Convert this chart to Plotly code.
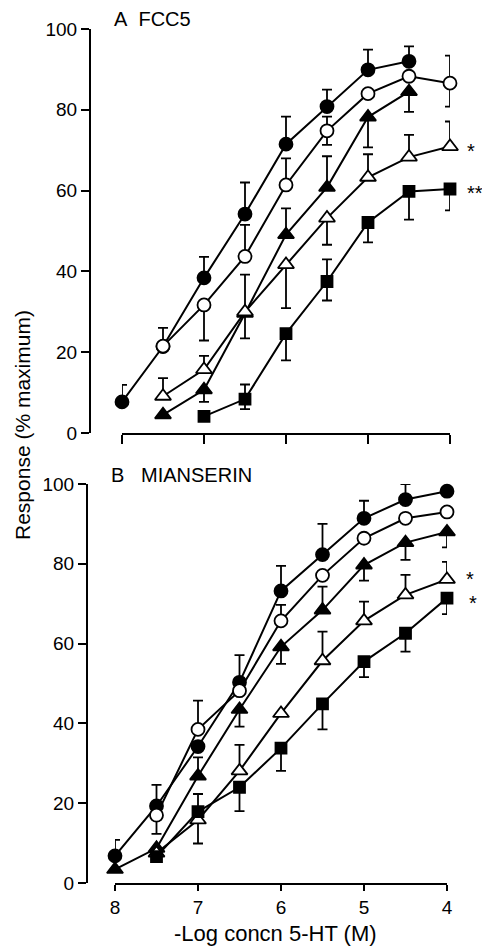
import plotly.graph_objects as go

# ---------------- data ----------------
# x: -log concentration of 5-HT (M)
# Panel A: FCC5
a_fc_x = [8, 7.5, 7, 6.5, 6, 5.5, 5, 4.5]
a_fc_y = [7.7, 21.4, 38.4, 54.2, 71.5, 80.8, 89.9, 92.0]
a_fc_up = [4.2, 4.6, 5.2, 7.8, 6.8, 4.2, 5.0, 3.7]
a_fc_dn = [0, 0, 0, 0, 0, 0, 0, 0]

a_oc_x = [7.5, 7, 6.5, 6, 5.5, 5, 4.5, 4]
a_oc_y = [21.5, 31.7, 43.7, 61.4, 74.8, 84.0, 88.3, 86.6]
a_oc_up = [0, 0, 7.8, 6.6, 3.5, 0, 0, 6.8]
a_oc_dn = [0, 8.8, 0, 0, 3.5, 0, 0, 5.8]

a_ft_x = [7.5, 7, 6.5, 6, 5.5, 5, 4.5]
a_ft_y = [4.5, 10.7, 29.6, 49.1, 60.8, 78.2, 84.5]
a_ft_up = [0, 0, 0, 6.5, 7.7, 0, 0]
a_ft_dn = [0, 3.0, 0, 0, 0, 7.5, 5.0]

a_ot_x = [7.5, 7, 6.5, 6, 5.5, 5, 4.5, 4]
a_ot_y = [9.1, 15.7, 30.0, 41.7, 53.2, 63.3, 68.3, 70.9]
a_ot_up = [4.5, 3.4, 9.2, 0, 0, 5.7, 5.5, 6.2]
a_ot_dn = [0, 0, 6.6, 10.8, 6.6, 0, 0, 0]

a_fs_x = [7, 6.5, 6, 5.5, 5, 4.5, 4]
a_fs_y = [4.1, 8.4, 24.6, 37.5, 52.1, 59.8, 60.4]
a_fs_up = [0, 3.6, 0, 5.5, 0, 0, 0]
a_fs_dn = [0, 2.5, 6.6, 4.7, 4.9, 7.0, 5.3]

# Panel B: MIANSERIN
b_fc_x = [8, 7.5, 7, 6.5, 6, 5.5, 5, 4.5, 4]
b_fc_y = [6.8, 19.3, 34.2, 50.3, 73.2, 82.3, 91.4, 96.1, 98.2]
b_fc_up = [4.0, 5.3, 0, 6.8, 6.3, 7.7, 4.4, 3.9, 3.8]
b_fc_dn = [0, 0, 0, 0, 0, 0, 0, 0, 0]

b_oc_x = [7.5, 7, 6.5, 6, 5.5, 5, 4.5, 4]
b_oc_y = [17.0, 38.5, 48.2, 65.7, 77.1, 86.4, 91.4, 93.0]
b_oc_up = [0, 7.2, 0, 4.0, 0, 0, 0, 0]
b_oc_dn = [4.7, 0, 0, 0, 0, 0, 0, 0]

b_ft_x = [8, 7.5, 7, 6.5, 6, 5.5, 5, 4.5, 4]
b_ft_y = [3.4, 8.7, 26.8, 43.5, 59.2, 68.4, 79.7, 85.3, 88.0]
b_ft_up = [0, 0, 4.7, 0, 0, 5.9, 0, 0, 0]
b_ft_dn = [0, 0, 0, 4.3, 4.3, 0, 3.9, 4.3, 3.9]

b_ot_x = [7.5, 7, 6.5, 6, 5.5, 5, 4.5, 4]
b_ot_y = [7.5, 15.8, 28.1, 42.5, 55.7, 65.7, 72.2, 76.1]
b_ot_up = [0, 0, 6.5, 0, 7.3, 4.8, 5.0, 4.4]
b_ot_dn = [0, 5.9, 0, 0, 0, 0, 0, 0]

b_fs_x = [7.5, 7, 6.5, 6, 5.5, 5, 4.5, 4]
b_fs_y = [6.6, 17.9, 24.0, 33.8, 44.9, 55.5, 62.6, 71.4]
b_fs_up = [0, 4.4, 0, 0, 0, 0, 0, 0]
b_fs_dn = [0, 0, 6.0, 5.7, 6.4, 3.9, 4.6, 4.0]

x_ticks = [8, 7, 6, 5, 4]
x_ticklabels = ["8", "7", "6", "5", "4"]
y_ticks = [0, 20, 40, 60, 80, 100]

# ---------------- styles ----------------
W, H = 482, 946
FONT = "Liberation Sans, Arial, sans-serif"
LW = 2
styles = {
    "fc": dict(symbol="circle", size=13, color="black"),
    "oc": dict(symbol="circle", size=13, color="white"),
    "ft": dict(symbol="triangle-up", size=14, color="black"),
    "ot": dict(symbol="triangle-up", size=14, color="white"),
    "fs": dict(symbol="square", size=11, color="black"),
}

panels = {
    "A": [("fc", a_fc_x, a_fc_y, a_fc_up, a_fc_dn),
          ("oc", a_oc_x, a_oc_y, a_oc_up, a_oc_dn),
          ("ft", a_ft_x, a_ft_y, a_ft_up, a_ft_dn),
          ("ot", a_ot_x, a_ot_y, a_ot_up, a_ot_dn),
          ("fs", a_fs_x, a_fs_y, a_fs_up, a_fs_dn)],
    "B": [("fc", b_fc_x, b_fc_y, b_fc_up, b_fc_dn),
          ("oc", b_oc_x, b_oc_y, b_oc_up, b_oc_dn),
          ("ft", b_ft_x, b_ft_y, b_ft_up, b_ft_dn),
          ("ot", b_ot_x, b_ot_y, b_ot_up, b_ot_dn),
          ("fs", b_fs_x, b_fs_y, b_fs_up, b_fs_dn)],
}
axes = {"A": ("x", "y"), "B": ("x2", "y2")}

fig = go.Figure()
# lines first
for p, series in panels.items():
    xa, ya = axes[p]
    for key, xs, ys, up, dn in series:
        fig.add_trace(go.Scatter(x=xs, y=ys, mode="lines", xaxis=xa, yaxis=ya,
                                 line=dict(color="black", width=LW),
                                 showlegend=False, hoverinfo="skip"))
# markers + error bars on top
for p, series in panels.items():
    xa, ya = axes[p]
    for key, xs, ys, up, dn in series:
        st = styles[key]
        fig.add_trace(go.Scatter(
            x=xs, y=ys, mode="markers", xaxis=xa, yaxis=ya, cliponaxis=False,
            marker=dict(symbol=st["symbol"], size=st["size"], color=st["color"],
                        line=dict(color="black", width=1.8)),
            error_y=dict(type="data", symmetric=False, array=up, arrayminus=dn,
                         color="black", thickness=1.8, width=5),
            showlegend=False))

def px_x(v):
    return v / W

def px_y(v):
    return (H - v) / H

axis_common = dict(showline=True, linecolor="black", linewidth=2, ticks="outside",
                   tickcolor="black", tickwidth=2, showgrid=False, zeroline=False,
                   tickfont=dict(family=FONT, size=19, color="black"))

fig.update_layout(
    width=W, height=H, margin=dict(l=0, r=0, t=0, b=0, autoexpand=False),
    paper_bgcolor="white", plot_bgcolor="white", showlegend=False,
    xaxis=dict(domain=[px_x(122), px_x(450)], range=[8, 4], anchor="y",
               tickvals=x_ticks, showticklabels=False, ticklen=9, **axis_common),
    yaxis=dict(domain=[px_y(433), px_y(29)], range=[0, 100], anchor="free",
               position=px_x(90), tickvals=y_ticks, ticklen=8, **axis_common),
    xaxis2=dict(domain=[px_x(115), px_x(447)], range=[8, 4], anchor="y2",
                tickvals=x_ticks, ticktext=x_ticklabels, ticklen=6, **axis_common),
    yaxis2=dict(domain=[px_y(883), px_y(484)], range=[0, 100], anchor="free",
                position=px_x(87), tickvals=y_ticks, ticklen=8, **axis_common),
)

ann_font = dict(family=FONT, size=20, color="black")
fig.add_annotation(text="A\u00a0\u00a0FCC5", x=px_x(112), y=px_y(19), xref="paper", yref="paper",
                   xanchor="left", yanchor="middle", showarrow=False, font=ann_font)
fig.add_annotation(text="B\u00a0\u00a0\u00a0MIANSERIN", x=px_x(109), y=px_y(475), xref="paper", yref="paper",
                   xanchor="left", yanchor="middle", showarrow=False, font=ann_font)
fig.add_annotation(text="Response (% maximum)", x=px_x(22), y=px_y(425), xref="paper", yref="paper",
                   textangle=-90, xanchor="center", yanchor="middle", showarrow=False,
                   font=dict(family=FONT, size=21, color="black"))
fig.add_annotation(text="-Log concn 5-HT (M)", x=px_x(275), y=px_y(933), xref="paper", yref="paper",
                   xanchor="center", yanchor="middle", showarrow=False,
                   font=dict(family=FONT, size=22, color="black"))

star_font = dict(family=FONT, size=20, color="black")
fig.add_annotation(text="*", x=a_ot_x[-1], y=a_ot_y[-1], xref="x", yref="y", xshift=15, yshift=-4,
                   xanchor="left", yanchor="middle", showarrow=False, font=star_font)
fig.add_annotation(text="**", x=a_fs_x[-1], y=a_fs_y[-1], xref="x", yref="y", xshift=15, yshift=-4,
                   xanchor="left", yanchor="middle", showarrow=False, font=star_font)
fig.add_annotation(text="*", x=b_ot_x[-1], y=b_ot_y[-1], xref="x2", yref="y2", xshift=17, yshift=0,
                   xanchor="left", yanchor="middle", showarrow=False, font=star_font)
fig.add_annotation(text="*", x=b_fs_x[-1], y=b_fs_y[-1], xref="x2", yref="y2", xshift=20, yshift=-5,
                   xanchor="left", yanchor="middle", showarrow=False, font=star_font)

page_fix = (
    "document.documentElement.style.margin='0';"
    "document.documentElement.style.overflow='hidden';"
    "document.body.style.margin='0';"
    "document.body.style.overflow='hidden';"
    "var gd=document.getElementById('{plot_id}');"
    "gd.style.position='fixed';gd.style.left='0px';gd.style.top='0px';"
)
fig.write_html("out.html", config={"displayModeBar": False}, post_script=page_fix)
